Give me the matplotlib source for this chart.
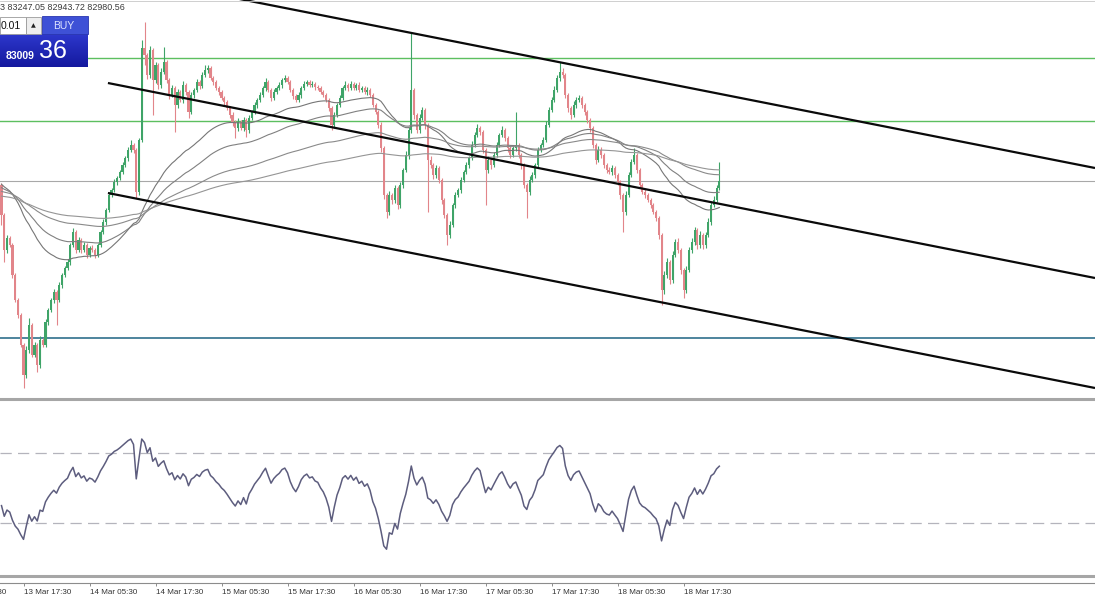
import numpy as np
import matplotlib
matplotlib.use("Agg")
import matplotlib.pyplot as plt
from matplotlib.patches import Rectangle
from matplotlib.lines import Line2D
from matplotlib.transforms import blended_transform_factory

W, H = 1095, 600

# ---------------- data (30-minute bars, 13 Mar 13:30 -> 19 Mar 00:00) ----------------
first_open = 82925
closes = [
    82475, 81950, 82130, 82025, 81575, 81200, 80975, 80525, 80075, 80450,
    80825, 80375, 80525, 80225, 80600, 80525, 80870, 81050, 81200, 81320,
    81200, 81425, 81575, 81680, 81770, 82025, 82220, 81950, 82100, 81950,
    82025, 81875, 81980, 81950, 81875, 82025, 82220, 82370, 82550, 82775,
    82850, 82970, 83030, 83120, 83225, 83330, 83450, 83525, 83450, 82820,
    83600, 84980, 84875, 84575, 84950, 84500, 84725, 84425, 84620, 84770,
    84500, 84275, 84380, 84125, 84320, 84200, 84425, 84320, 84020, 84275,
    84350, 84470, 84410, 84575, 84650, 84680, 84530, 84470, 84380, 84320,
    84230, 84170, 84080, 83975, 83870, 83780, 83870, 83780, 83900, 83750,
    83930, 84020, 84125, 84200, 84275, 84380, 84470, 84350, 84230, 84320,
    84380, 84425, 84500, 84530, 84470, 84350, 84260, 84200, 84275, 84380,
    84440, 84470, 84425, 84440, 84395, 84380, 84320, 84275, 84200, 84080,
    83825, 83975, 84125, 84230, 84380, 84425, 84380, 84440, 84380, 84425,
    84350, 84380, 84320, 84350, 84275, 84125, 84020, 83825, 83480, 82775,
    82520, 82775, 82700, 82880, 82625, 82925, 83150, 83375, 83750, 84350,
    83975, 83750, 83930, 84050, 83825, 83300, 83225, 83075, 83180, 83000,
    82700, 82475, 82175, 82325, 82625, 82775, 82850, 83000, 83120, 83225,
    83330, 83525, 83675, 83780, 83720, 83450, 83150, 83300, 83225, 83375,
    83525, 83675, 83750, 83630, 83480, 83375, 83480, 83525, 83375, 83225,
    82925, 82820, 83000, 83075, 83225, 83450, 83525, 83600, 83825, 84050,
    84200, 84350, 84530, 84620, 84575, 84275, 84080, 83975, 84125, 84200,
    84230, 84125, 84020, 83900, 83780, 83525, 83300, 83450, 83375, 83225,
    83150, 83120, 83180, 83075, 82970, 82775, 82520, 82775, 83075, 83270,
    83375, 83150, 82925, 82820, 82775, 82700, 82625, 82520, 82430, 82175,
    81350, 81575, 81770, 81500, 81875, 82070, 81950, 81650, 81350, 81650,
    81950, 82070, 82250, 82025, 82175, 82025, 82175, 82370, 82625, 82700,
    82880, 82985,
]
upper_wicks = [
    30, 30, 45, 30, 30, 30, 30, 30, 30, 60,
    105, 30, 45, 30, 60, 30, 45, 30, 30, 45,
    30, 45, 30, 30, 45, 30, 60, 30, 45, 30,
    45, 30, 30, 45, 30, 30, 30, 45, 30, 45,
    30, 45, 30, 30, 45, 30, 45, 75, 30, 30,
    30, 120, 390, 30, 60, 30, 45, 30, 60, 225,
    30, 30, 45, 30, 45, 30, 60, 30, 30, 45,
    30, 45, 30, 45, 75, 45, 30, 30, 30, 30,
    30, 30, 30, 30, 45, 30, 60, 30, 45, 30,
    45, 30, 45, 30, 45, 30, 60, 30, 30, 45,
    30, 45, 30, 45, 30, 30, 30, 30, 45, 30,
    45, 30, 30, 45, 30, 30, 30, 30, 30, 30,
    30, 45, 30, 45, 30, 60, 30, 45, 30, 30,
    45, 30, 30, 45, 30, 30, 30, 30, 45, 30,
    30, 60, 30, 45, 30, 45, 30, 60, 45, 855,
    30, 30, 60, 45, 30, 30, 60, 30, 45, 30,
    30, 30, 30, 60, 30, 45, 30, 45, 30, 45,
    30, 60, 45, 60, 30, 30, 30, 60, 30, 45,
    45, 30, 60, 30, 30, 45, 30, 495, 30, 30,
    30, 30, 60, 45, 30, 45, 30, 45, 60, 45,
    45, 60, 45, 150, 60, 30, 30, 30, 60, 45,
    45, 30, 30, 30, 30, 30, 30, 60, 45, 30,
    30, 45, 45, 30, 30, 30, 30, 60, 45, 45,
    105, 30, 30, 30, 45, 30, 30, 30, 30, 30,
    30, 60, 60, 30, 60, 45, 60, 30, 30, 60,
    45, 60, 45, 30, 60, 30, 45, 60, 45, 60,
    45, 285,
]
lower_wicks = [
    150, 180, 45, 30, 45, 30, 45, 30, 195, 45,
    45, 30, 30, 105, 45, 30, 30, 45, 30, 45,
    375, 30, 45, 30, 30, 45, 30, 45, 30, 45,
    30, 45, 30, 30, 45, 30, 30, 30, 45, 30,
    30, 30, 45, 30, 30, 30, 45, 30, 45, 90,
    45, 30, 150, 60, 45, 525, 45, 60, 45, 30,
    45, 60, 30, 405, 45, 30, 45, 45, 90, 30,
    45, 30, 45, 30, 30, 45, 30, 45, 30, 45,
    30, 45, 30, 45, 60, 150, 45, 30, 45, 105,
    45, 30, 30, 45, 30, 30, 45, 30, 45, 30,
    30, 30, 45, 30, 30, 30, 45, 30, 30, 45,
    30, 30, 30, 30, 45, 30, 30, 30, 30, 45,
    75, 45, 30, 30, 30, 30, 45, 30, 30, 30,
    30, 30, 30, 45, 30, 30, 30, 45, 60, 60,
    90, 45, 60, 45, 60, 45, 45, 30, 60, 45,
    60, 45, 45, 30, 60, 780, 45, 60, 45, 45,
    60, 45, 150, 45, 30, 45, 30, 45, 30, 30,
    45, 30, 30, 30, 45, 45, 525, 45, 60, 30,
    30, 30, 30, 45, 60, 45, 30, 45, 45, 60,
    45, 390, 45, 30, 45, 30, 30, 30, 30, 30,
    30, 30, 30, 45, 45, 45, 60, 60, 30, 45,
    30, 45, 45, 45, 60, 45, 60, 30, 45, 45,
    45, 30, 45, 45, 45, 60, 300, 45, 30, 30,
    30, 45, 45, 30, 45, 30, 45, 30, 45, 60,
    225, 60, 45, 60, 45, 30, 45, 60, 120, 45,
    30, 45, 45, 60, 45, 60, 45, 30, 45, 30,
    30, 30,
]

tick_bars = [-16, 8, 32, 56, 80, 104, 128, 152, 176, 200, 224, 248]
tick_labels = ["13 Mar 05:30", "13 Mar 17:30", "14 Mar 05:30", "14 Mar 17:30",
               "15 Mar 05:30", "15 Mar 17:30", "16 Mar 05:30", "16 Mar 17:30",
               "17 Mar 05:30", "17 Mar 17:30", "18 Mar 05:30", "18 Mar 17:30"]

green_levels = [84830, 83885]
bid_level = 82985
support_level = 80630

channel_mid = [(38.7, 84455), (397.6, 81530)]
channel_half_width = 1650

ema_periods = [50, 80, 150, 250]
ema_seeds = [82955, 82895, 82835, 82760]

rsi_period = 14
rsi_seed_gain, rsi_seed_loss = 95.0, 110.0
rsi_levels = [70, 30]

header_text = "3 83247.05 82943.72 82980.56"
lot_text = "0.01"
bid_main = "83009"
bid_pips = "36"

# ---------------- derived series ----------------
closes = np.array(closes, dtype=float)
n = len(closes)
opens = np.concatenate([[first_open], closes[:-1]])
highs = np.maximum(opens, closes) + np.array(upper_wicks)
lows = np.minimum(opens, closes) - np.array(lower_wicks)
bars = np.arange(n)


def ema(values, period, seed):
    a = 2.0 / (period + 1)
    out, e = [], seed
    for v in values:
        e = e + a * (v - e)
        out.append(e)
    return np.array(out)


def rsi(values, start_open, period, g0, l0):
    prev = start_open
    g, l = g0, l0
    out = []
    for v in values:
        d = v - prev
        prev = v
        g = (g * (period - 1) + max(d, 0)) / period
        l = (l * (period - 1) + max(-d, 0)) / period
        out.append(100 - 100 / (1 + g / l) if l > 0 else 100)
    return np.array(out)


# ---------------- figure ----------------
fig = plt.figure(figsize=(W / 100, H / 100), dpi=100)
fig.patch.set_facecolor("white")


def fy(py):
    return 1 - py / H


XL = (-0.545, 397.6)
ax = fig.add_axes([0, fy(397), 1, 397 / H])
ax.set_xlim(*XL)
ax.set_ylim(85700 - 15 * 397, 85700)
ax.axis("off")

up_col, dn_col = "#3fa468", "#e2858a"
cols = [up_col if c >= o else dn_col for o, c in zip(opens, closes)]
ax.vlines(bars, lows, highs, colors=cols, linewidth=0.8, zorder=3)
body_h = np.maximum(np.abs(closes - opens), 12)
ax.bar(bars, body_h, bottom=np.minimum(opens, closes), width=0.75,
       color=cols, linewidth=0, zorder=4)

# horizontal levels
for lv in green_levels:
    ax.axhline(lv, color="#5cbf60", lw=1.0, zorder=2)
ax.axhline(bid_level, color="#a8a8a8", lw=0.8, zorder=2)
ax.axhline(support_level, color="#2f6f8c", lw=1.2, zorder=2)

# moving averages
ma_cols = ["#767676", "#808080", "#8a8a8a", "#959595"]
for p, s, c in zip(ema_periods, ema_seeds, ma_cols):
    ax.plot(bars, ema(closes, p, s), color=c, lw=0.8, zorder=5)

# regression channel
(x0, y0), (x1, y1) = channel_mid
for off in (channel_half_width, 0, -channel_half_width):
    ax.plot([x0, x1], [y0 + off, y1 + off], color="#0a0a0a", lw=1.6,
            solid_capstyle="butt", zorder=6)

# RSI pane
axr = fig.add_axes([0, fy(575), 1, 175 / H])
axr.set_xlim(*XL)
axr.set_ylim(0, 100)
axr.axis("off")
for lv in rsi_levels:
    axr.axhline(lv, color="#b4b4bc", lw=0.9, dashes=(9, 5))
axr.plot(bars, rsi(closes, first_open, rsi_period, rsi_seed_gain, rsi_seed_loss),
         color="#5d5d7e", lw=1.1)

# time axis
axt = fig.add_axes([0, fy(586), 1, 3 / H])
axt.set_yticks([])
for sp in ("left", "right", "bottom"):
    axt.spines[sp].set_visible(False)
axt.spines["top"].set_color("#8c8c8c")
axt.spines["top"].set_linewidth(0.8)
axt.set_xticks(tick_bars[1:])
axt.set_xticklabels(tick_labels[1:], fontsize=5.8, color="#333333",
                    family="Liberation Sans")
axt.set_xlim(*XL)
axt.tick_params(axis="x", direction="in", length=2.5, width=0.7,
                color="#8c8c8c", pad=2)
for lab in axt.get_xticklabels():
    lab.set_ha("left")
axt.patch.set_alpha(0)
# first label whose tick lies just left of the visible window (only its tail shows)
trans = blended_transform_factory(axt.transData, axt.transAxes)
axt.text(tick_bars[0] + 0.5, -0.9, tick_labels[0], transform=trans, ha="left",
         va="top", fontsize=5.8, color="#333333", family="Liberation Sans",
         clip_on=False)

# pane separators
for py in (399, 576):
    fig.add_artist(Line2D([0, 1], [fy(py), fy(py)], color="#a6a6a6", lw=2.2,
                          transform=fig.transFigure))
fig.add_artist(Line2D([0, 1], [fy(0.5), fy(0.5)], color="#c8c8c8", lw=0.6,
                      transform=fig.transFigure))

# header
fig.text(0, fy(8), header_text, ha="left", va="center", fontsize=6.4,
         color="#3a3a3a", family="Liberation Sans")


# one-click trading widget
def rect(px, py, w, h, **kw):
    r = Rectangle((px / W, fy(py + h)), w / W, h / H, transform=fig.transFigure, **kw)
    fig.add_artist(r)


rect(0, 17, 26, 17, facecolor="white", edgecolor="#9a9a9a", lw=0.6)
rect(26, 17, 15, 17, facecolor="#eeeeee", edgecolor="#9a9a9a", lw=0.6)
rect(42, 16, 46, 18, facecolor="#3e51d6", edgecolor="#2a36b0", lw=0.6)
axw = fig.add_axes([0, fy(67), 88 / W, 33 / H])
grad = np.linspace(0, 1, 50)[:, None]
c_top = np.array([0x2d, 0x38, 0xcc]) / 255
c_bot = np.array([0x14, 0x18, 0x9e]) / 255
img = (c_top[None, None, :] * (1 - grad[..., None]) + c_bot[None, None, :] * grad[..., None])
axw.imshow(img, aspect="auto", extent=(0, 1, 0, 1))
axw.axis("off")

fig.text(1 / W, fy(26), lot_text, ha="left", va="center", fontsize=7.5,
         color="#111111", family="Liberation Sans")
fig.text(33.5 / W, fy(25.5), "\u25b2", ha="center", va="center", fontsize=4.5,
         color="#222222", family="DejaVu Sans")
fig.text(64 / W, fy(26), "BUY", ha="center", va="center", fontsize=7.5,
         color="#dfe4ff", family="Liberation Sans")
fig.text(6 / W, fy(56), bid_main, ha="left", va="center", fontsize=7.5,
         color="white", fontweight="bold", family="Liberation Sans")
fig.text(39 / W, fy(51), bid_pips, ha="left", va="center", fontsize=18,
         color="white", family="Liberation Sans")

fig.savefig("out.png", dpi=100, facecolor="white")
